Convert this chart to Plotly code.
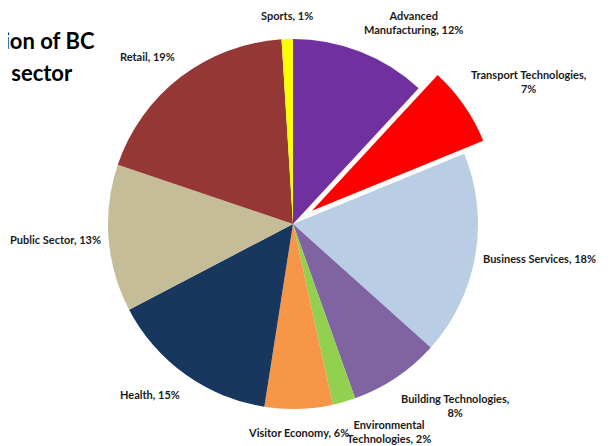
import math
import plotly.graph_objects as go

# ---- data ----
sectors = ["Advanced Manufacturing", "Transport Technologies", "Business Services",
           "Building Technologies", "Environmental Technologies", "Visitor Economy",
           "Health", "Public Sector", "Retail", "Sports"]
label_text = ["Advanced<br>Manufacturing, 12%", "Transport Technologies,<br>7%",
              "Business Services, 18%", "Building Technologies,<br>8%",
              "Environmental<br>Technologies, 2%", "Visitor Economy, 6%",
              "Health, 15%", "Public Sector, 13%", "Retail, 19%", "Sports, 1%"]
shares = [12, 7, 18, 8, 2, 6, 15, 13, 19, 1]

# ---- styles ----
colors = ["#7030A0", "#FF0000", "#B9CDE5", "#8064A2", "#92D050", "#F79646",
          "#17375E", "#C4BD97", "#953735", "#FFFF00"]
pull_out = [0, 0.125, 0, 0, 0, 0, 0, 0, 0, 0]

W, H = 616, 446
OFF = 8                         # page body margin of the browser
CX, CY, R = 293, 224, 185       # pie centre / radius in page pixels
LX, LY = 192, 201               # label ring half-axes (pixels)
FONT = "Lato"


def fx(px):
    return (px - OFF) / W


def fy(py):
    return 1 - (py - OFF) / H


max_pull = max(pull_out)
half = R * (1 + max_pull)
dom_x = [fx(CX - half), fx(CX + half)]
dom_y = [fy(CY + half), fy(CY - half)]

fig = go.Figure(go.Pie(
    labels=sectors, values=shares, sort=False, direction="clockwise", rotation=0,
    pull=pull_out, marker=dict(colors=colors, line=dict(width=0)),
    textinfo="none", hoverinfo="label+percent", showlegend=False,
    domain=dict(x=dom_x, y=dom_y),
))

# data labels placed just outside each slice, along its mid-angle
total = sum(shares)
cum = 0
for i, v in enumerate(shares):
    mid = (cum + v / 2) / total * 2 * math.pi
    cum += v
    sx, sy = math.sin(mid), -math.cos(mid)
    extra = R * pull_out[i]
    px, py = CX + (LX + extra) * sx, CY + (LY + extra) * sy
    xa = "left" if sx > 0.25 else ("right" if sx < -0.25 else "center")
    ya = "bottom" if sy < -0.25 else ("top" if sy > 0.25 else "middle")
    fig.add_annotation(x=fx(px), y=fy(py), xref="paper", yref="paper",
                       text=label_text[i], showarrow=False, xanchor=xa, yanchor=ya,
                       align="center", borderpad=0,
                       font=dict(family=FONT, size=11, color="#1a1a1a", weight="bold"))

# title (cut off at the left like the reference)
fig.add_annotation(x=fx(97), y=fy(56), xref="paper", yref="paper",
                   text="Distribution of BC", showarrow=False, xanchor="right",
                   yanchor="bottom", font=dict(family=FONT, size=22, color="black", weight="bold"))
fig.add_annotation(x=fx(75), y=fy(88), xref="paper", yref="paper",
                   text="companies per sector", showarrow=False, xanchor="right",
                   yanchor="bottom", font=dict(family=FONT, size=22, color="black", weight="bold"))

# frame of the neighbouring box at the right
fig.add_shape(type="rect", xref="paper", yref="paper",
              x0=fx(612), x1=1.1, y0=fy(430), y1=fy(6),
              line=dict(color="black", width=2))

fig.update_layout(width=W, height=H, margin=dict(l=0, r=0, t=0, b=0),
                  paper_bgcolor="white", plot_bgcolor="white")
fig.write_html("out.html")
